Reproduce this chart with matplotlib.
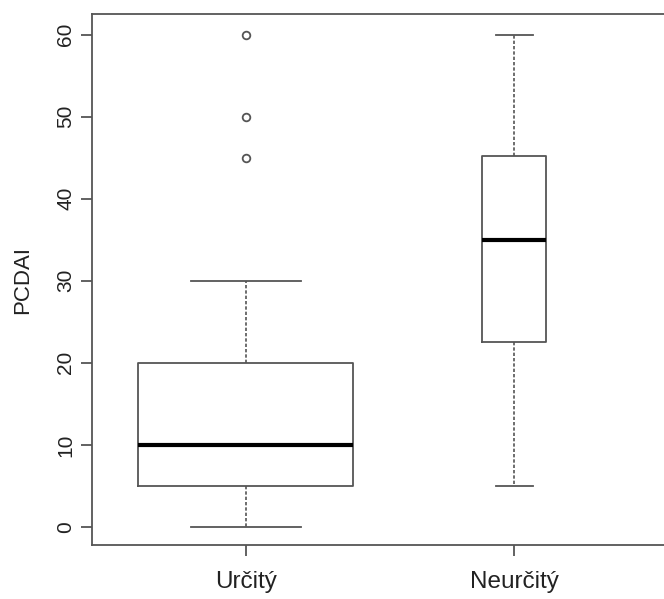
import matplotlib
matplotlib.use('Agg')
import matplotlib.pyplot as plt

plt.rcParams['font.family'] = ['Liberation Sans', 'DejaVu Sans']

categories = ['Určitý', 'Neurčitý']
whislo = [0, 5]
q1 = [5, 22.5]
med = [10, 35]
q3 = [20, 45.25]
whishi = [30, 60]
fliers = [[45, 50, 60], []]
yticks = [0, 10, 20, 30, 40, 50, 60]
ylabel = 'PCDAI'

W, H = 664, 599
fig = plt.figure(figsize=(W / 100, H / 100), dpi=100)
ax = fig.add_axes([92 / W, 54 / H, 578 / W, 531 / H])

lc = '#555555'
stats = []
for i, c in enumerate(categories):
    stats.append(dict(label=c, whislo=whislo[i], q1=q1[i], med=med[i],
                      q3=q3[i], whishi=whishi[i], fliers=fliers[i]))

ax.bxp(stats, positions=[1, 2], widths=[0.80, 0.238], capwidths=[0.41, 0.138],
       boxprops=dict(color=lc, lw=1.3),
       medianprops=dict(color='black', lw=3.0, solid_capstyle='butt'),
       whiskerprops=dict(color=lc, lw=1.2, linestyle=(0, (2.0, 1.2))),
       capprops=dict(color=lc, lw=1.3),
       flierprops=dict(marker='o', markerfacecolor='none', markeredgecolor=lc,
                       markersize=5.5, markeredgewidth=1.3),
       showfliers=True)

ax.set_xlim(0.428, 2.58)
ax.set_ylim(-2.2, 62.5)
ax.set_yticks(yticks)
ax.set_yticklabels([str(v) for v in yticks], rotation=90, va='center')
ax.set_xticks([1, 2])
ax.set_xticklabels(categories)

for s in ax.spines.values():
    s.set_color(lc)
    s.set_linewidth(1.3)

ax.tick_params(axis='both', colors=lc, labelcolor='#222222', length=8, width=1.3)
ax.tick_params(axis='y', pad=4, labelsize=15)
ax.tick_params(axis='x', pad=11, labelsize=17.5)
ax.set_ylabel(ylabel, fontsize=16, color='#222222')
ax.yaxis.set_label_coords((23 - 92) / 578, 0.5)
ax.yaxis.label.set_va('center')

fig.savefig('out.png', dpi=100)
